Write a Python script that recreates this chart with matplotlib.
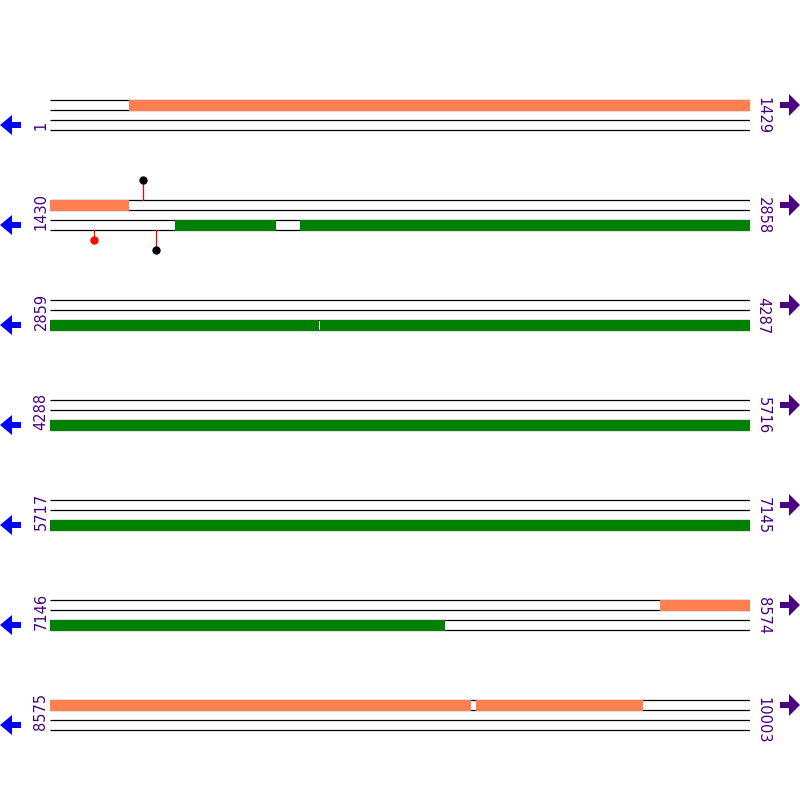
import matplotlib
matplotlib.use("Agg")
import matplotlib.pyplot as plt
from matplotlib.patches import Polygon

# ---- data ----
genome_length = 10003
row_length = 1429
row_starts = [1, 1430, 2859, 4288, 5717, 7146, 8575]
row_ends = [1429, 2858, 4287, 5716, 7145, 8574, 10003]

# forward-strand features (coral): (start, end)
forward_starts = [162, 8391, 9445]
forward_ends = [1590, 9433, 9785]
# reverse-strand features (green): (start, end)
reverse_starts = [1685, 1940, 3410]
reverse_ends = [1890, 3407, 7951]

# lollipops: position, side ('top' / 'bottom'), height (track units), head colour
lolli_pos = [1620, 1520, 1646]
lolli_side = ["top", "bottom", "bottom"]
lolli_height = [20, 10, 20]
lolli_head = ["black", "red", "black"]

coral = "#FF7F50"
green = "#008000"
purple = "#4B0082"
blue = "#0000FF"

W = H = 800
fig = plt.figure(figsize=(8, 8), dpi=100)
fig.patch.set_facecolor("white")

# overlay axes in pixel coordinates for labels & arrows
ov = fig.add_axes([0, 0, 1, 1])
ov.set_xlim(0, W)
ov.set_ylim(H, 0)
ov.set_axis_off()

for k, (rs, re) in enumerate(zip(row_starts, row_ends)):
    top_px = 100 + 100 * k
    ax = fig.add_axes([50 / W, 1 - (top_px + 55) / H, 700 / W, 80 / H])
    ax.set_xlim(rs, rs + row_length)
    ax.set_ylim(55, -25)
    ax.set_axis_off()
    ax.patch.set_alpha(0)

    # four track lines
    for yy in [0, 10, 20, 30]:
        ax.plot([rs, rs + row_length], [yy, yy], color="black", lw=0.9, zorder=1,
                solid_capstyle="butt")

    # forward features
    for s, e in zip(forward_starts, forward_ends):
        if e >= rs and s <= re:
            ax.broken_barh([(s, e - s + 1)], (-0.5, 11), facecolors=coral, zorder=2)
    # reverse features
    for s, e in zip(reverse_starts, reverse_ends):
        if e >= rs and s <= re:
            ax.broken_barh([(s, e - s + 1)], (19.5, 11), facecolors=green, zorder=2)

    # lollipops
    for p, side, h, c in zip(lolli_pos, lolli_side, lolli_height, lolli_head):
        if rs <= p <= re:
            if side == "top":
                y0, y1 = 0, -h
            else:
                y0, y1 = 30, 30 + h
            ax.plot([p, p], [y0, y1], color="red", lw=0.9, zorder=3)
            ax.plot([p], [y1], marker="o", color=c, markersize=5, zorder=4)

    # labels
    ov.text(41, top_px + 30, str(rs), rotation=90, ha="center", va="bottom",
            color=purple, fontsize=10.5)
    ov.text(763, top_px - 3, str(re), rotation=-90, ha="center", va="top",
            color=purple, fontsize=10.5)

    # left (reverse) arrow, blue
    cy = top_px + 25
    ov.add_patch(Polygon([(0, cy), (12, cy - 10), (12, cy - 3), (21, cy - 3),
                          (21, cy + 3), (12, cy + 3), (12, cy + 10)],
                         closed=True, facecolor=blue, edgecolor="none"))
    # right (forward) arrow, purple
    cy = top_px + 5
    ov.add_patch(Polygon([(800, cy), (789, cy - 11), (789, cy - 3), (780, cy - 3),
                          (780, cy + 3), (789, cy + 3), (789, cy + 11)],
                         closed=True, facecolor=purple, edgecolor="none"))

fig.savefig("out.png", dpi=100)
